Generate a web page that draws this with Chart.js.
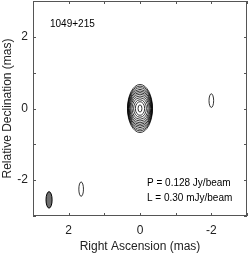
<!DOCTYPE html>
<html lang="en">
<head>
  <meta charset="UTF-8">
  <title>1049+215</title>
  <script src="https://cdn.jsdelivr.net/npm/chart.js"></script>
  <style>
    body {
      margin: 0;
      background-color: #fff;
    }
    #wrap {
      width: 249px;
      height: 254px;
    }
  </style>
</head>
<body>
  <div id="wrap"><canvas id="mapChart" width="249" height="254"></canvas></div>

  <script>
    // Component centres (mas)
    const componentX = [0, -2.0, 1.65];
    const componentY = [0, 0.22, -2.25];

    // Contour semi-axes for each component (mas), outermost first
    const contourA = [
      [0.35, 0.345, 0.34, 0.33, 0.32, 0.305, 0.285, 0.26, 0.225, 0.18, 0.13, 0.055],
      [0.065],
      [0.065]
    ];
    const contourB = [
      [0.67, 0.625, 0.58, 0.535, 0.49, 0.445, 0.40, 0.35, 0.30, 0.245, 0.19, 0.10],
      [0.19],
      [0.20]
    ];

    // Restoring beam
    const beamX = [2.55];
    const beamY = [-2.55];
    const beamA = [0.085];
    const beamB = [0.23];

    const xTicks = [3, 2, 1, 0, -1, -2, -3];
    const yTicks = [-3, -2, -1, 0, 1, 2, 3];
    const labelledTicks = [2, 0, -2];

    const fontFamily = "'Liberation Sans', Arial, sans-serif";

    // Draw the contour ellipses, beam, inward ticks and the frame
    const mapPlugin = {
      id: "mapPlugin",
      afterDatasetsDraw(chart) {
        const { ctx, chartArea, scales: { x, y } } = chart;
        const pxX = Math.abs(x.getPixelForValue(1) - x.getPixelForValue(0));
        const pxY = Math.abs(y.getPixelForValue(1) - y.getPixelForValue(0));

        ctx.save();
        ctx.beginPath();
        ctx.rect(chartArea.left, chartArea.top, chartArea.right - chartArea.left, chartArea.bottom - chartArea.top);
        ctx.clip();

        ctx.strokeStyle = "#000";
        ctx.lineWidth = 0.8;
        chart.getDatasetMeta(0).data.forEach((pt, i) => {
          contourA[i].forEach((a, j) => {
            ctx.beginPath();
            ctx.ellipse(pt.x, pt.y, a * pxX, contourB[i][j] * pxY, 0, 0, Math.PI * 2);
            ctx.stroke();
          });
        });

        chart.getDatasetMeta(1).data.forEach((pt, i) => {
          ctx.beginPath();
          ctx.ellipse(pt.x, pt.y, beamA[i] * pxX, beamB[i] * pxY, 0, 0, Math.PI * 2);
          ctx.fillStyle = "#6e6e6e";
          ctx.fill();
          ctx.lineWidth = 1;
          ctx.stroke();
        });
        ctx.restore();

        // frame
        ctx.save();
        ctx.strokeStyle = "#555";
        ctx.lineWidth = 1;
        ctx.strokeRect(chartArea.left + 0.5, chartArea.top + 0.5,
          chartArea.right - chartArea.left - 1, chartArea.bottom - chartArea.top - 1);

        // inward ticks on all four sides
        const len = 3;
        ctx.beginPath();
        xTicks.forEach((v) => {
          const px = Math.round(x.getPixelForValue(v)) + 0.5;
          ctx.moveTo(px, chartArea.bottom);
          ctx.lineTo(px, chartArea.bottom - len);
          ctx.moveTo(px, chartArea.top);
          ctx.lineTo(px, chartArea.top + len);
        });
        yTicks.forEach((v) => {
          const py = Math.round(y.getPixelForValue(v)) + 0.5;
          ctx.moveTo(chartArea.left, py);
          ctx.lineTo(chartArea.left + len, py);
          ctx.moveTo(chartArea.right, py);
          ctx.lineTo(chartArea.right - len, py);
        });
        ctx.stroke();

        // annotations
        ctx.fillStyle = "#000";
        ctx.font = "10px " + fontFamily;
        ctx.textBaseline = "middle";
        ctx.textAlign = "left";
        ctx.fillText("1049+215", 50, 24);
        ctx.fillText("P = 0.128 Jy/beam", 147, 183);
        ctx.fillText("L = 0.30 mJy/beam", 147, 198);
        ctx.restore();
      }
    };

    const ctx = document.getElementById("mapChart").getContext("2d");
    const chart = new Chart(ctx, {
      type: "scatter",
      data: {
        datasets: [
          {
            label: "Components",
            data: componentX.map((v, i) => ({ x: v, y: componentY[i] })),
            pointRadius: 0,
          },
          {
            label: "Beam",
            data: beamX.map((v, i) => ({ x: v, y: beamY[i] })),
            pointRadius: 0,
          },
        ],
      },
      options: {
        responsive: false,
        animation: false,
        layout: { padding: { top: 1, right: 2, left: 0, bottom: 0 } },
        plugins: {
          legend: { display: false },
          tooltip: { enabled: false },
        },
        scales: {
          x: {
            type: "linear",
            min: -3,
            max: 3,
            reverse: true,
            afterBuildTicks: (scale) => {
              scale.ticks = xTicks.map((v) => ({ value: v }));
            },
            afterFit: (scale) => {
              scale.height = 38;
              scale.paddingLeft = 0;
              scale.paddingRight = 0;
            },
            ticks: {
              color: "#222",
              font: { family: fontFamily, size: 12 },
              padding: 7,
              maxRotation: 0,
              callback: (v) => (labelledTicks.includes(v) ? String(v) : ""),
            },
            grid: { display: false, drawTicks: false },
            border: { display: false },
            title: {
              display: true,
              text: "Right Ascension (mas)",
              color: "#222",
              font: { family: fontFamily, size: 12 },
              padding: { top: 0, bottom: 0 },
            },
          },
          y: {
            type: "linear",
            min: -3,
            max: 3,
            afterBuildTicks: (scale) => {
              scale.ticks = yTicks.map((v) => ({ value: v }));
            },
            afterFit: (scale) => {
              scale.width = 33;
              scale.paddingTop = 0;
              scale.paddingBottom = 0;
            },
            ticks: {
              color: "#222",
              font: { family: fontFamily, size: 12 },
              padding: 5,
              callback: (v) => (labelledTicks.includes(v) ? String(v) : ""),
            },
            grid: { display: false, drawTicks: false },
            border: { display: false },
            title: {
              display: true,
              text: "Relative Declination (mas)",
              color: "#222",
              font: { family: fontFamily, size: 12 },
              padding: { top: 0, bottom: 0 },
            },
          },
        },
      },
      plugins: [mapPlugin],
    });
  </script>
</body>
</html>
